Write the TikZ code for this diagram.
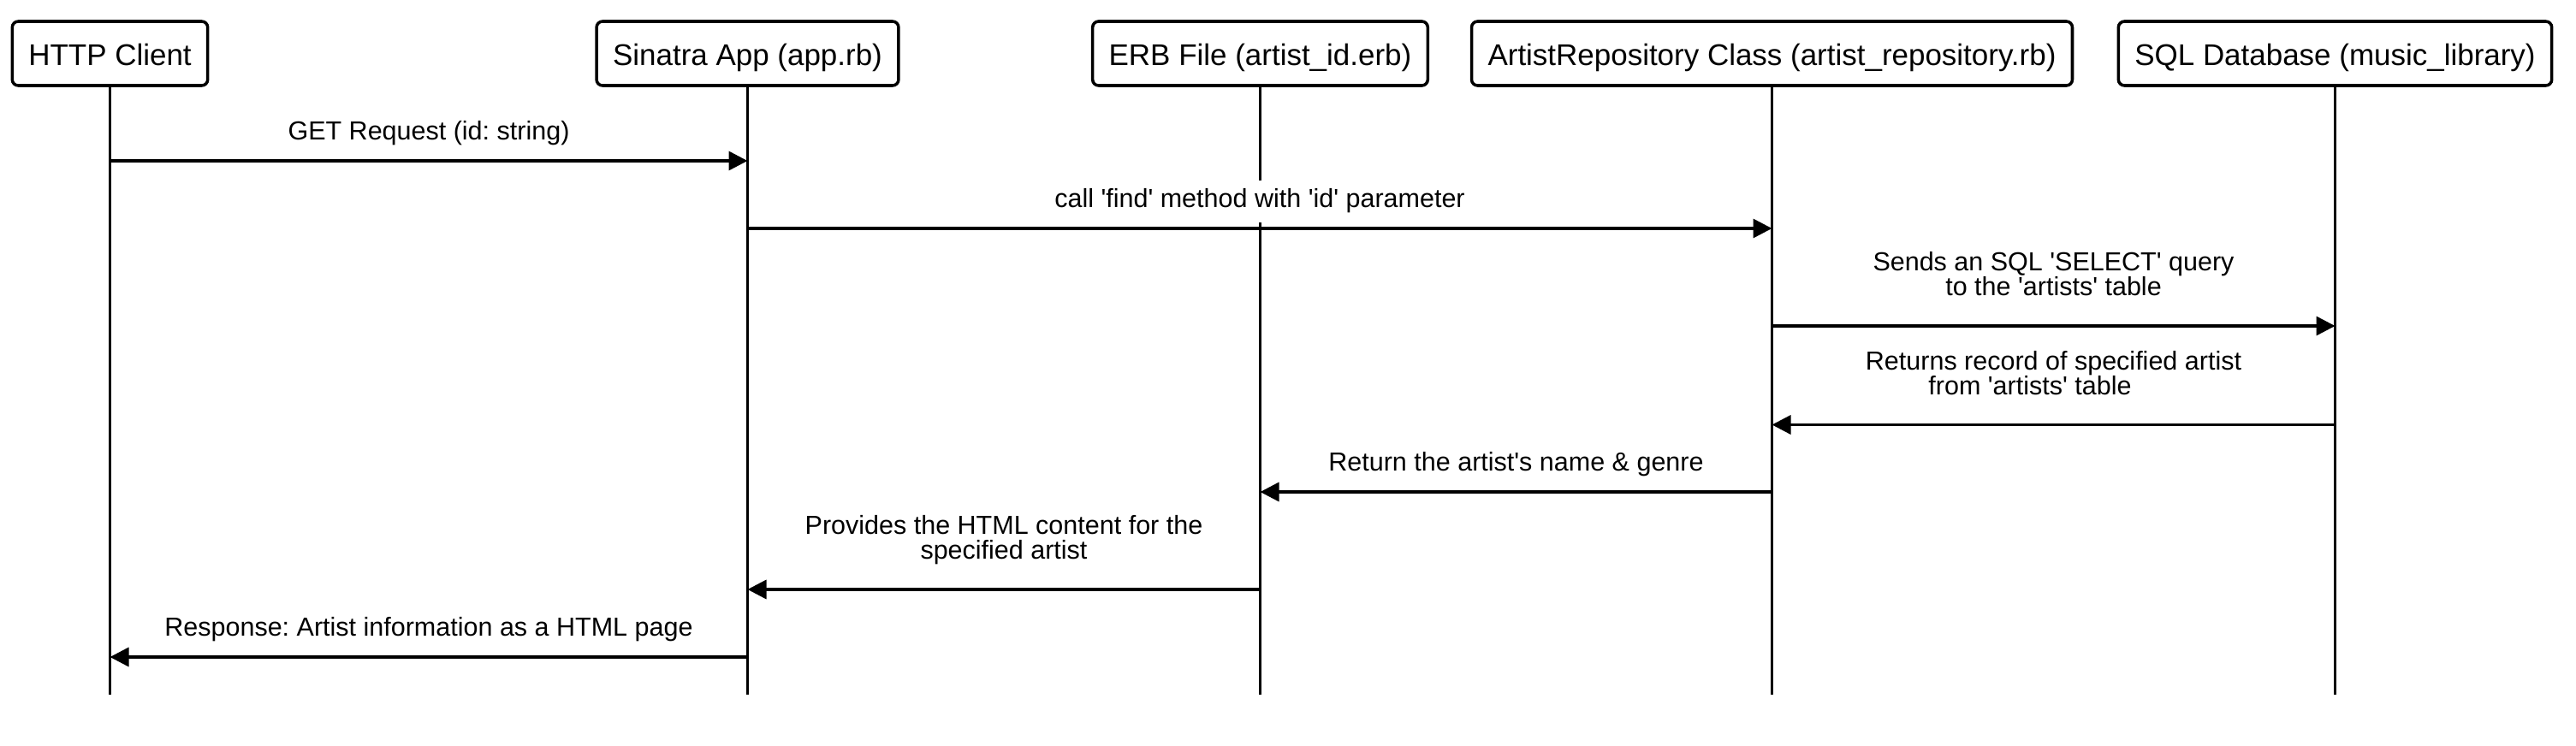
\documentclass[tikz,border=0pt]{standalone}
\usepackage{fontspec}
\newfontfamily\arialfont{Liberation Sans}
\usetikzlibrary{arrows.meta}
\frenchspacing
\tikzset{
  actor/.style={draw, line width=1pt, rounded corners=2pt, minimum height=0.75cm, inner xsep=0.19cm,
    text height=0.28cm, text depth=0cm, font=\arialfont\fontsize{9.95pt}{12pt}\selectfont},
  life/.style={line width=1.1pt},
  call/.style={line width=1pt, -{Triangle[length=0.22cm, width=0.22cm]}},
  msg/.style={above=0.055cm, fill=white, inner xsep=0.05cm, inner ysep=0.1cm, align=center,
    font=\arialfont\fontsize{8.68pt}{8.3pt}\selectfont,
    execute at end node={\vrule width 0pt height 0pt depth 0.07cm}},
  msgtwo/.style={msg, above=0.11cm}
}
\begin{document}
\begin{tikzpicture}
\useasboundingbox (0,0) rectangle (30.10,-8.72);
% participants
\node[actor] (client) at (1.285,-0.625) {HTTP Client};
\node[actor] (app) at (8.735,-0.625) {Sinatra App (app.rb)};
\node[actor] (erb) at (14.725,-0.625) {ERB File (artist\_id.erb)};
\node[actor] (repo) at (20.705,-0.625) {ArtistRepository Class (artist\_repository.rb)};
\node[actor] (db) at (27.285,-0.625) {SQL Database (music\_library)};
% lifelines
\coordinate (bottom) at (0,-8.12);
\foreach \p in {client,app,erb,repo,db}
  \draw[life] (\p.south) -- (\p |- bottom);
% messages
\coordinate (m1) at (0,-1.88);
\coordinate (m2) at (0,-2.67);
\coordinate (m3) at (0,-3.81);
\coordinate (m4) at (0,-4.965);
\coordinate (m5) at (0,-5.75);
\coordinate (m6) at (0,-6.89);
\coordinate (m7) at (0,-7.68);
\draw[call] (client |- m1) -- node[msg] {GET Request (id: string)} (app |- m1);
\draw[call] (app |- m2) -- node[msg] {call 'find' method with 'id' parameter} (repo |- m2);
\draw[call] (repo |- m3) -- node[msgtwo] {Sends an SQL 'SELECT' query\\to the 'artists' table} (db |- m3);
\draw[call] (db |- m4) -- node[msgtwo] {Returns record of specified artist\\from 'artists' table\kern0.55cm} (repo |- m4);
\draw[call] (repo |- m5) -- node[msg] {Return the artist's name \& genre} (erb |- m5);
\draw[call] (erb |- m6) -- node[msgtwo] {Provides the HTML content for the\\specified artist} (app |- m6);
\draw[call] (app |- m7) -- node[msg] {Response: Artist information as a HTML page} (client |- m7);
\end{tikzpicture}
\end{document}
